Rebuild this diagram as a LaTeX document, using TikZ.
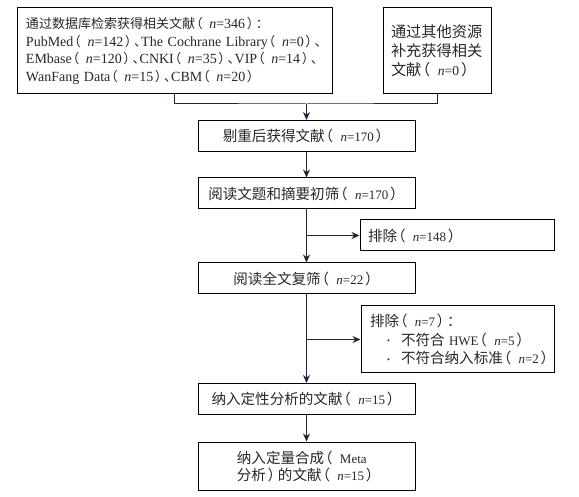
\documentclass[tikz,border=0pt]{standalone}
\usepackage{fontspec}
\setmainfont{Liberation Serif}
\newfontfamily\zhA{Noto Sans CJK SC}[Scale=0.93]
\newfontfamily\zhB{Noto Sans CJK SC}[Scale=1.12]
\usetikzlibrary{arrows.meta}
\definecolor{arr}{RGB}{35,35,60}
\definecolor{txt}{RGB}{40,40,40}
\let\zhcur\zhB
\newcommand\zh[1]{{\zhcur #1}}
\newcommand\nn{\textit{n}}
\newcommand\lp{\zh{\hspace{-0.42em}（\hspace{0.5em}}}
\newcommand\rp{\zh{\hspace{0.12em}）\hspace{-0.3em}}}
\newcommand\dun{\zh{、\hspace{-0.45em}}}
\newcommand\bulletmark{\makebox[14pt][l]{\raisebox{1.2pt}{\fontsize{8}{8}\selectfont\textbullet}}}
\begin{document}
\begin{tikzpicture}[x=1pt,y=1pt,
  box/.style={draw=black, line width=1pt, minimum width=217pt, minimum height=31pt,
    inner sep=0pt, text=txt, font=\fontsize{13}{17.7}\selectfont},
  link/.style={draw=arr, line width=1pt},
  arrow/.style={link, -{Stealth[length=8pt,width=7pt]}}]
\useasboundingbox[fill=white] (0,0) rectangle (579,-497);

\node[box, minimum width=315pt, minimum height=86pt, text width=297pt, align=left,
  font={\fontsize{14}{17.7}\selectfont\let\zhcur\zhA}] (b1) at (174.5,-51)
 {\mbox{\zh{通过数据库检索获得相关文献}\lp\nn=346\rp\zh{：}}\\
  \mbox{PubMed\lp\nn=142\rp\dun The Cochrane Library\lp\nn=0\rp\dun}\\
  \mbox{EMbase\lp\nn=120\rp\dun CNKI\lp\nn=35\rp\dun VIP\lp\nn=14\rp\dun}\\
  \mbox{WanFang Data\lp\nn=15\rp\dun CBM\lp\nn=20\rp}};

\node[box, minimum width=108pt, minimum height=86pt, text width=92pt, align=left,
  font=\fontsize{13.6}{19}\selectfont] (b2) at (437,-51)
 {\zh{通过其他资源}\\ \zh{补充获得相关}\\ \mbox{\zh{文献}\lp\nn=0\rp}};

\coordinate (j) at (306.5,-104);

\node[box] (b3) at (306.5,-136) {\zh{剔重后获得文献}\lp\nn=170\rp};
\node[box] (b4) at (306.5,-193.5) {\zh{阅读文题和摘要初筛}\lp\nn=170\rp};
\node[box, minimum width=194pt, text width=178pt, align=left] (e1) at (457,-235.5)
 {\mbox{\zh{排除}\lp\nn=148\rp}};
\node[box] (b5) at (306.5,-278.5) {\zh{阅读全文复筛}\lp\nn=22\rp};
\node[box, minimum width=193pt, minimum height=67pt, text width=175pt, align=left,
  font=\fontsize{13}{18.3}\selectfont] (e2) at (457.5,-339.5)
 {\mbox{\zh{排除}\lp\nn=7\rp\zh{：}}\\
  \mbox{\hspace*{17pt}\bulletmark\zh{不符合} HWE\lp\nn=5\rp}\\
  \mbox{\hspace*{17pt}\bulletmark\zh{不符合纳入标准}\lp\nn=2\rp}};
\node[box] (b6) at (306.5,-399) {\zh{纳入定性分析的文献}\lp\nn=15\rp};
\node[box, minimum height=48pt, align=left, font=\fontsize{13}{17}\selectfont] (b7) at (306.5,-466)
 {\mbox{\zh{纳入定量合成}\lp Meta}\\ \mbox{\zh{分析}\rp\zh{的文献}\lp\nn=15\rp}};

\draw[link] (b1.south) |- (j) -| (b2.south);
\draw[arrow] (j) -- (b3.north);
\draw[arrow] (b3.south) -- (b4.north);
\draw[arrow] (b4.south) -- (b5.north);
\draw[arrow] (b4.south |- e1.west) -- (e1.west);
\draw[arrow] (b5.south) -- (b6.north);
\draw[arrow] (b5.south |- e2.west) -- (e2.west);
\draw[arrow] (b6.south) -- (b7.north);
\end{tikzpicture}
\end{document}
